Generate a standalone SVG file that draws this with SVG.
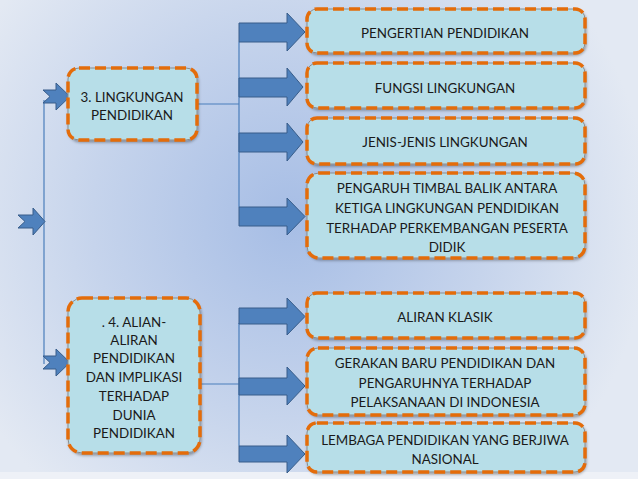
<svg xmlns="http://www.w3.org/2000/svg" width="638" height="479" viewBox="0 0 638 479">
<defs>
<radialGradient id="bg" cx="290" cy="220" r="360" gradientUnits="userSpaceOnUse">
<stop offset="0" stop-color="#a6bde5"/>
<stop offset="0.55" stop-color="#c6d4ec"/>
<stop offset="1" stop-color="#e3e9f3"/>
</radialGradient>
<filter id="sh" x="-10%" y="-10%" width="120%" height="130%">
<feDropShadow dx="1" dy="2" stdDeviation="1.5" flood-color="#000" flood-opacity="0.35"/>
</filter>
</defs>
<style>
.box{fill:#b7dee8;stroke:#8c8c8c;stroke-width:1}
.dash{fill:none;stroke:#e46c0a;stroke-width:3.5;stroke-dasharray:11 5}
.arr{fill:#4f81bd;stroke:#385d8a;stroke-width:1}
.ln{fill:none;stroke:#4a7ebb;stroke-width:1.2}
text{font-family:Lato,"Liberation Sans",sans-serif;font-size:13.4px;fill:#1a1a1a;text-anchor:middle}
</style>
<rect width="638" height="479" fill="url(#bg)"/>
<rect y="472" width="638" height="7" fill="#eef1f7"/>

<g id="connectors">
<path class="ln" d="M44 100 V364"/>
<path class="ln" d="M197 104 H239 M239 42 V207"/>
<path class="ln" d="M200 384 H239 M239 323 V446"/>
<path class="arr" d="M18 215 H33 V208 L45 221.5 L33 235 V228 H18 L25 221.5 Z"/>
<path class="arr" d="M43 90 H56 V83 L70 96.5 L56 110 V103 H43 L50 96.5 Z"/>
<path class="arr" d="M43 356 H56 V349 L70 362.5 L56 376 V369 H43 L50 362.5 Z"/>
<path class="arr" d="M239 23 H287 V13 L305 32 L287 51 V42 H239 Z"/>
<path class="arr" d="M239 78 H287 V68 L303 87 L287 106 V97 H239 Z"/>
<path class="arr" d="M239 133 H287 V123 L303 142 L287 161 V152 H239 Z"/>
<path class="arr" d="M239 207 H287 V198 L305 216.5 L287 235 V226 H239 Z"/>
<path class="arr" d="M239 308 H287 V298 L305 316.5 L287 335 V324 H239 Z"/>
<path class="arr" d="M239 378 H287 V367 L305 386 L287 405 V395 H239 Z"/>
<path class="arr" d="M239 446 H287 V435 L305 454 L287 473 V462 H239 Z"/>
</g>

<g id="n3">
<rect class="box" x="68" y="68" width="129" height="72" rx="11" filter="url(#sh)"/>
<rect class="dash" x="68" y="68" width="129" height="72" rx="11"/>
<text x="132" y="102">3. LINGKUNGAN</text>
<text x="132" y="120">PENDIDIKAN</text>
</g>

<g id="n4">
<rect class="box" x="68" y="298" width="132" height="155" rx="14" filter="url(#sh)"/>
<rect class="dash" x="68" y="298" width="132" height="155" rx="14"/>
<text x="134" y="327">. 4. ALIAN-</text>
<text x="134" y="345">ALIRAN</text>
<text x="134" y="363">PENDIDIKAN</text>
<text x="134" y="382">DAN IMPLIKASI</text>
<text x="134" y="401">TERHADAP</text>
<text x="134" y="420">DUNIA</text>
<text x="134" y="438">PENDIDIKAN</text>
</g>

<g id="r1">
<rect class="box" x="307" y="9" width="278" height="44" rx="10" filter="url(#sh)"/>
<rect class="dash" x="307" y="9" width="278" height="44" rx="10"/>
<text x="445" y="38">PENGERTIAN PENDIDIKAN</text>
</g>
<g id="r2">
<rect class="box" x="307" y="63" width="278" height="45" rx="10" filter="url(#sh)"/>
<rect class="dash" x="307" y="63" width="278" height="45" rx="10"/>
<text x="445" y="93">FUNGSI LINGKUNGAN</text>
</g>
<g id="r3">
<rect class="box" x="307" y="118" width="278" height="46" rx="10" filter="url(#sh)"/>
<rect class="dash" x="307" y="118" width="278" height="46" rx="10"/>
<text x="445" y="147">JENIS-JENIS LINGKUNGAN</text>
</g>
<g id="r4">
<rect class="box" x="307" y="173" width="278" height="85" rx="12" filter="url(#sh)"/>
<rect class="dash" x="307" y="173" width="278" height="85" rx="12"/>
<text x="447" y="193">PENGARUH TIMBAL BALIK ANTARA</text>
<text x="447" y="213">KETIGA LINGKUNGAN PENDIDIKAN</text>
<text x="447" y="233">TERHADAP PERKEMBANGAN PESERTA</text>
<text x="447" y="252">DIDIK</text>
</g>
<g id="r5">
<rect class="box" x="307" y="293" width="278" height="45" rx="10" filter="url(#sh)"/>
<rect class="dash" x="307" y="293" width="278" height="45" rx="10"/>
<text x="445" y="322">ALIRAN KLASIK</text>
</g>
<g id="r6">
<rect class="box" x="307" y="348" width="278" height="67" rx="11" filter="url(#sh)"/>
<rect class="dash" x="307" y="348" width="278" height="67" rx="11"/>
<text x="445" y="368">GERAKAN BARU PENDIDIKAN DAN</text>
<text x="445" y="388">PENGARUHNYA TERHADAP</text>
<text x="445" y="407">PELAKSANAAN DI INDONESIA</text>
</g>
<g id="r7">
<rect class="box" x="307" y="423" width="278" height="49" rx="10" filter="url(#sh)"/>
<rect class="dash" x="307" y="423" width="278" height="49" rx="10"/>
<text x="445" y="445">LEMBAGA PENDIDIKAN YANG BERJIWA</text>
<text x="445" y="464">NASIONAL</text>
</g>
</svg>
